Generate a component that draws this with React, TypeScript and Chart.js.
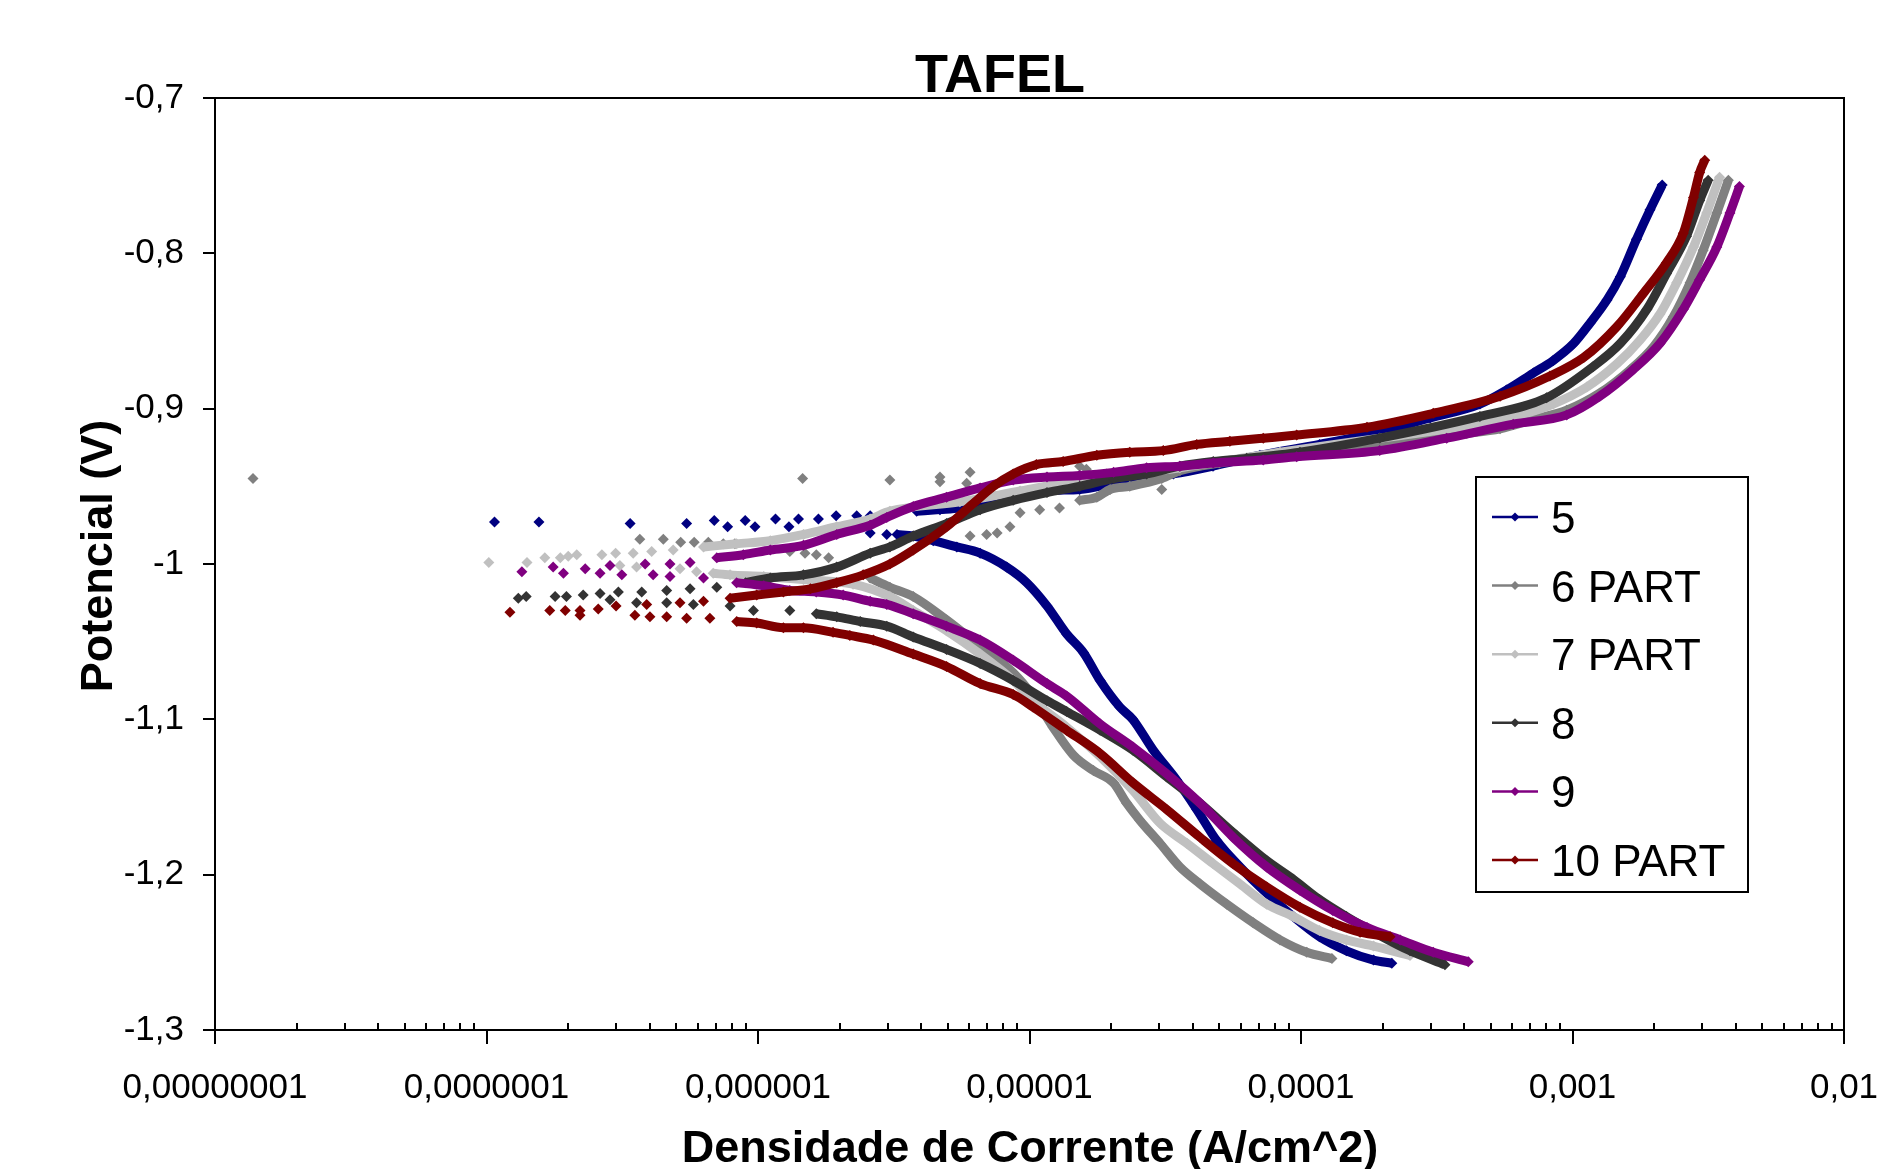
import React, { useEffect, useRef } from "react";
import { Chart, registerables } from "chart.js";

Chart.register(...registerables);

type P = [number, number];

// ---- series meta ----
const seriesNames = ["5", "6 PART", "7 PART", "8", "9", "10 PART"];
const seriesColors = ["#000080", "#808080", "#C0C0C0", "#333333", "#800080", "#800000"];

// ---- axis ticks ----
const xTickValues = [1e-8, 1e-7, 1e-6, 1e-5, 1e-4, 1e-3, 1e-2];
const xTickLabels = ["0,00000001", "0,0000001", "0,000001", "0,00001", "0,0001", "0,001", "0,01"];
const xMinorMultipliers = [2, 3, 4, 5, 6, 7, 8, 9];
const yTickValues = [-1.3, -1.2, -1.1, -1.0, -0.9, -0.8, -0.7];
const yTickLabels = ["-1,3", "-1,2", "-1,1", "-1", "-0,9", "-0,8", "-0,7"];

// ---- series 5 ----
const s5Scatter: P[] = [
  [1.07e-7, -0.973], [1.56e-7, -0.973], [3.38e-7, -0.974], [5.46e-7, -0.974], [6.9e-7, -0.972],
  [7.73e-7, -0.976], [8.97e-7, -0.972], [9.75e-7, -0.976], [1.16e-6, -0.971], [1.3e-6, -0.976],
  [1.41e-6, -0.971], [1.67e-6, -0.971], [1.94e-6, -0.969], [2.31e-6, -0.969], [2.59e-6, -0.969],
  [2.59e-6, -0.98], [2.98e-6, -0.981],
];
const s5Cathodic: P[] = [
  [3.25e-6, -0.981], [3.73e-6, -0.982], [4.42e-6, -0.985], [5.4e-6, -0.989], [6.58e-6, -0.993],
  [8.24e-6, -1.002], [9.77e-6, -1.012], [1.16e-5, -1.027], [1.37e-5, -1.045], [1.58e-5, -1.057],
  [1.82e-5, -1.075], [2.15e-5, -1.092], [2.4e-5, -1.1], [2.86e-5, -1.12], [3.48e-5, -1.139],
  [4.13e-5, -1.158], [4.89e-5, -1.178], [5.96e-5, -1.195], [7.48e-5, -1.212], [9.37e-5, -1.227],
  [1.17e-4, -1.24], [1.47e-4, -1.249], [1.85e-4, -1.255], [2.16e-4, -1.257],
];
const s5Anodic: P[] = [
  [3.84e-6, -0.966], [4.68e-6, -0.965], [5.54e-6, -0.964], [8.71e-6, -0.958], [1.16e-5, -0.953],
  [1.53e-5, -0.952], [2.04e-5, -0.948], [2.7e-5, -0.944], [3.39e-5, -0.942], [4.74e-5, -0.937],
  [7.06e-5, -0.93], [1.17e-4, -0.923], [1.95e-4, -0.915], [2.99e-4, -0.906], [4.56e-4, -0.897],
  [5.71e-4, -0.888], [7.18e-4, -0.877], [8.49e-4, -0.869], [1.01e-3, -0.858], [1.16e-3, -0.845],
  [1.34e-3, -0.83], [1.5e-3, -0.815], [1.72e-3, -0.791], [1.93e-3, -0.772], [2.14e-3, -0.756],
];

// ---- series 6 PART ----
const s6Scatter: P[] = [
  [1.38e-8, -0.945], [3.67e-7, -0.984], [4.48e-7, -0.984], [5.19e-7, -0.986], [5.82e-7, -0.986],
  [6.56e-7, -0.986], [7.45e-7, -0.987], [8.22e-7, -0.987], [1.31e-6, -0.992], [1.49e-6, -0.993],
  [1.64e-6, -0.994], [1.82e-6, -0.996], [1.46e-6, -0.945], [3.06e-6, -0.946], [4.68e-6, -0.944],
  [4.68e-6, -0.947], [5.87e-6, -0.948], [6.04e-6, -0.941], [1.53e-5, -0.937], [1.62e-5, -0.939],
  [1.92e-5, -0.942], [3.07e-5, -0.952], [6.04e-6, -0.982], [6.95e-6, -0.981], [7.6e-6, -0.98],
  [8.47e-6, -0.976], [9.23e-6, -0.967], [1.09e-5, -0.965], [1.29e-5, -0.964],
];
const s6Cathodic: P[] = [
  [2.59e-6, -1.009], [3.06e-6, -1.015], [3.73e-6, -1.021], [4.95e-6, -1.036], [6.58e-6, -1.053],
  [8.71e-6, -1.07], [1.03e-5, -1.085], [1.22e-5, -1.105], [1.45e-5, -1.123], [1.72e-5, -1.133],
  [2.04e-5, -1.141], [2.28e-5, -1.154], [2.55e-5, -1.165], [3.03e-5, -1.18], [3.58e-5, -1.195],
  [4.25e-5, -1.206], [5.33e-5, -1.219], [6.67e-5, -1.231], [8.37e-5, -1.242], [1.05e-4, -1.25],
  [1.3e-4, -1.254],
];
const s6Anodic: P[] = [
  [1.53e-5, -0.959], [1.77e-5, -0.957], [1.98e-5, -0.952], [2.34e-5, -0.95], [3.07e-5, -0.945],
  [3.58e-5, -0.94], [5.0e-5, -0.935], [8.37e-5, -0.93], [1.95e-4, -0.922], [4.08e-4, -0.916],
  [5.41e-4, -0.913], [7.18e-4, -0.907], [9.52e-4, -0.901], [1.26e-3, -0.89], [1.63e-3, -0.875],
  [1.99e-3, -0.86], [2.35e-3, -0.841], [2.71e-3, -0.819], [3.03e-3, -0.798], [3.4e-3, -0.774],
  [3.75e-3, -0.753],
];

// ---- series 7 PART ----
const s7Scatter: P[] = [
  [1.02e-7, -0.999], [1.41e-7, -0.999], [1.64e-7, -0.996], [1.87e-7, -0.996], [2.0e-7, -0.995],
  [2.15e-7, -0.994], [2.66e-7, -0.994], [2.99e-7, -0.993], [3.47e-7, -0.993], [4.06e-7, -0.992],
  [4.87e-7, -0.991], [3.1e-7, -1.001], [3.57e-7, -1.002], [5.16e-7, -1.003], [5.94e-7, -1.005],
];
const s7Cathodic: P[] = [
  [6.84e-7, -1.006], [7.89e-7, -1.007], [1.05e-6, -1.008], [1.47e-6, -1.01], [2.24e-6, -1.013],
  [3.06e-6, -1.021], [3.73e-6, -1.03], [4.95e-6, -1.043], [6.58e-6, -1.058], [8.71e-6, -1.075],
  [1.03e-5, -1.088], [1.37e-5, -1.105], [1.82e-5, -1.124], [2.41e-5, -1.146], [3.03e-5, -1.167],
  [3.81e-5, -1.18], [4.75e-5, -1.193], [5.96e-5, -1.206], [7.48e-5, -1.219], [9.37e-5, -1.227],
  [1.17e-4, -1.236], [1.47e-4, -1.242], [1.85e-4, -1.246], [2.52e-4, -1.252],
];
const s7Anodic: P[] = [
  [6.3e-7, -0.989], [8.34e-7, -0.987], [1.11e-6, -0.985], [1.47e-6, -0.981], [1.95e-6, -0.976],
  [2.59e-6, -0.971], [3.06e-6, -0.966], [5.54e-6, -0.96], [9.23e-6, -0.953], [1.53e-5, -0.946],
  [3.58e-5, -0.938], [8.37e-5, -0.928], [1.95e-4, -0.919], [4.08e-4, -0.911], [6.41e-4, -0.904],
  [8.49e-4, -0.897], [1.13e-3, -0.886], [1.46e-3, -0.871], [1.77e-3, -0.856], [2.1e-3, -0.839],
  [2.42e-3, -0.819], [2.79e-3, -0.796], [3.12e-3, -0.774], [3.48e-3, -0.751],
];

// ---- series 8 ----
const s8Scatter: P[] = [
  [1.31e-7, -1.022], [1.4e-7, -1.021], [1.79e-7, -1.021], [1.97e-7, -1.021], [2.27e-7, -1.02],
  [2.62e-7, -1.019], [3.06e-7, -1.018], [3.73e-7, -1.018], [4.61e-7, -1.017], [5.62e-7, -1.016],
  [7.05e-7, -1.015], [2.85e-7, -1.023], [3.57e-7, -1.025], [4.61e-7, -1.025], [5.78e-7, -1.026],
  [7.89e-7, -1.027], [9.62e-7, -1.03], [1.31e-6, -1.03],
];
const s8Cathodic: P[] = [
  [1.64e-6, -1.032], [1.95e-6, -1.034], [2.38e-6, -1.037], [2.98e-6, -1.04], [3.73e-6, -1.047],
  [4.95e-6, -1.055], [6.58e-6, -1.064], [8.71e-6, -1.075], [1.16e-5, -1.088], [1.37e-5, -1.095],
  [1.82e-5, -1.107], [2.41e-5, -1.12], [3.2e-5, -1.137], [4.25e-5, -1.154], [5.63e-5, -1.173],
  [7.48e-5, -1.191], [9.37e-5, -1.203], [1.17e-4, -1.216], [1.47e-4, -1.227], [1.9e-4, -1.238],
  [2.52e-4, -1.249], [3.39e-4, -1.258],
];
const s8Anodic: P[] = [
  [9.0e-7, -1.012], [1.11e-6, -1.009], [1.47e-6, -1.007], [1.95e-6, -1.002], [2.59e-6, -0.993],
  [3.06e-6, -0.989], [3.73e-6, -0.982], [4.95e-6, -0.974], [6.58e-6, -0.965], [8.71e-6, -0.959],
  [1.16e-5, -0.954], [1.53e-5, -0.95], [2.04e-5, -0.945], [2.7e-5, -0.942], [3.58e-5, -0.937],
  [4.75e-5, -0.934], [6.31e-5, -0.932], [9.91e-5, -0.928], [1.95e-4, -0.919], [4.56e-4, -0.905],
  [8.03e-4, -0.893], [1.19e-3, -0.873], [1.5e-3, -0.858], [1.88e-3, -0.836], [2.22e-3, -0.813],
  [2.63e-3, -0.789], [2.94e-3, -0.766], [3.16e-3, -0.753],
];

// ---- series 9 ----
const s9Scatter: P[] = [
  [1.35e-7, -1.005], [1.76e-7, -1.002], [1.92e-7, -1.006], [2.31e-7, -1.003], [2.62e-7, -1.006],
  [2.85e-7, -1.001], [3.15e-7, -1.007], [3.84e-7, -1.0], [4.11e-7, -1.007], [4.74e-7, -1.0],
  [4.74e-7, -1.008], [5.62e-7, -0.999], [6.3e-7, -1.009],
];
const s9Cathodic: P[] = [
  [8.34e-7, -1.012], [1.05e-6, -1.014], [1.31e-6, -1.017], [1.64e-6, -1.018], [2.06e-6, -1.02],
  [2.59e-6, -1.024], [2.98e-6, -1.026], [3.73e-6, -1.032], [4.95e-6, -1.04], [6.58e-6, -1.049],
  [8.71e-6, -1.062], [1.16e-5, -1.077], [1.37e-5, -1.085], [1.82e-5, -1.103], [2.41e-5, -1.118],
  [3.2e-5, -1.135], [4.25e-5, -1.154], [5.63e-5, -1.176], [7.48e-5, -1.195], [9.91e-5, -1.21],
  [1.31e-4, -1.223], [1.75e-4, -1.234], [2.32e-4, -1.242], [3.07e-4, -1.25], [4.13e-4, -1.256],
];
const s9Anodic: P[] = [
  [7.05e-7, -0.996], [8.83e-7, -0.994], [1.11e-6, -0.991], [1.47e-6, -0.988], [1.95e-6, -0.981],
  [2.59e-6, -0.975], [2.98e-6, -0.97], [3.73e-6, -0.963], [4.95e-6, -0.957], [6.58e-6, -0.951],
  [8.71e-6, -0.946], [1.16e-5, -0.944], [1.53e-5, -0.943], [2.04e-5, -0.941], [2.7e-5, -0.938],
  [3.58e-5, -0.937], [4.75e-5, -0.935], [7.26e-5, -0.933], [9.64e-5, -0.931], [1.95e-4, -0.927],
  [3.44e-4, -0.919], [6.05e-4, -0.91], [9.52e-4, -0.904], [1.26e-3, -0.892], [1.67e-3, -0.875],
  [2.1e-3, -0.858], [2.56e-3, -0.836], [2.94e-3, -0.817], [3.4e-3, -0.796], [3.8e-3, -0.774],
  [4.12e-3, -0.757],
];

// ---- series 10 PART ----
const s10Scatter: P[] = [
  [1.22e-7, -1.031], [1.71e-7, -1.03], [1.95e-7, -1.03], [2.21e-7, -1.03], [2.21e-7, -1.033],
  [2.58e-7, -1.029], [3.0e-7, -1.027], [3.52e-7, -1.033], [4.0e-7, -1.034], [4.61e-7, -1.034],
  [5.46e-7, -1.035], [6.65e-7, -1.035], [3.89e-7, -1.026], [5.16e-7, -1.025], [6.3e-7, -1.024],
];
const s10Cathodic: P[] = [
  [8.35e-7, -1.037], [9.89e-7, -1.038], [1.24e-6, -1.041], [1.47e-6, -1.041], [1.89e-6, -1.044],
  [2.18e-6, -1.046], [2.66e-6, -1.049], [3.73e-6, -1.058], [4.95e-6, -1.066], [6.58e-6, -1.077],
  [8.71e-6, -1.084], [1.03e-5, -1.092], [1.37e-5, -1.107], [1.82e-5, -1.122], [2.41e-5, -1.141],
  [3.2e-5, -1.158], [4.25e-5, -1.176], [5.63e-5, -1.193], [7.48e-5, -1.208], [9.91e-5, -1.221],
  [1.31e-4, -1.231], [1.65e-4, -1.237], [2.13e-4, -1.24],
];
const s10Anodic: P[] = [
  [7.89e-7, -1.022], [9.89e-7, -1.02], [1.24e-6, -1.018], [1.56e-6, -1.016], [1.95e-6, -1.012],
  [2.44e-6, -1.007], [3.06e-6, -1.0], [3.73e-6, -0.991], [4.95e-6, -0.976], [6.21e-6, -0.961],
  [7.36e-6, -0.95], [8.71e-6, -0.942], [1.06e-5, -0.936], [1.33e-5, -0.934], [1.77e-5, -0.93],
  [2.34e-5, -0.928], [3.11e-5, -0.927], [4.13e-5, -0.923], [5.47e-5, -0.921], [7.26e-5, -0.919],
  [9.64e-5, -0.917], [1.75e-4, -0.912], [3.07e-4, -0.903], [5.41e-4, -0.892], [8.26e-4, -0.879],
  [1.1e-3, -0.867], [1.46e-3, -0.847], [1.82e-3, -0.826], [2.22e-3, -0.806], [2.56e-3, -0.787],
  [2.79e-3, -0.764], [2.94e-3, -0.748], [3.07e-3, -0.74],
];

const seriesScatter = [s5Scatter, s6Scatter, s7Scatter, s8Scatter, s9Scatter, s10Scatter];
const seriesCathodic = [s5Cathodic, s6Cathodic, s7Cathodic, s8Cathodic, s9Cathodic, s10Cathodic];
const seriesAnodic = [s5Anodic, s6Anodic, s7Anodic, s8Anodic, s9Anodic, s10Anodic];

const FONT = '"Liberation Sans", Arial, Helvetica, sans-serif';
const W = 1882;
const H = 1169;
const AREA = { left: 215, right: 1844, top: 98, bottom: 1030 };
const LEGEND = { x: 1476, y: 477, w: 272, h: 415, firstRow: 517, rowGap: 68.6 };

const toPts = (arr: P[]) => arr.map(([x, y]) => ({ x, y }));

function drawDiamond(ctx: CanvasRenderingContext2D, x: number, y: number, r: number, color: string) {
  ctx.fillStyle = color;
  ctx.beginPath();
  ctx.moveTo(x, y - r);
  ctx.lineTo(x + r, y);
  ctx.lineTo(x, y + r);
  ctx.lineTo(x - r, y);
  ctx.closePath();
  ctx.fill();
}

const decorPlugin = {
  id: "decor",
  afterDraw(chart: any) {
    const { ctx, chartArea: a, scales } = chart;
    const xs = scales.x;
    const ys = scales.y;
    ctx.save();

    // frame
    ctx.strokeStyle = "#000";
    ctx.lineWidth = 2;
    ctx.strokeRect(a.left, a.top, a.right - a.left, a.bottom - a.top);

    // tick marks
    ctx.beginPath();
    for (const v of yTickValues) {
      const py = Math.round(ys.getPixelForValue(v));
      ctx.moveTo(a.left - 12, py);
      ctx.lineTo(a.left, py);
    }
    xTickValues.forEach((dec, i) => {
      const px = Math.round(xs.getPixelForValue(dec));
      ctx.moveTo(px, a.bottom);
      ctx.lineTo(px, a.bottom + 14);
      if (i < xTickValues.length - 1) {
        for (const m of xMinorMultipliers) {
          const mx = Math.round(xs.getPixelForValue(m * dec));
          ctx.moveTo(mx, a.bottom - 7);
          ctx.lineTo(mx, a.bottom);
        }
      }
    });
    ctx.stroke();

    // title
    ctx.fillStyle = "#000";
    ctx.textAlign = "center";
    ctx.textBaseline = "alphabetic";
    ctx.font = `bold 54px ${FONT}`;
    ctx.fillText("TAFEL", 1000, 92);

    // axis titles
    ctx.font = `bold 45px ${FONT}`;
    ctx.fillText("Densidade de Corrente (A/cm^2)", 1030, 1162);
    ctx.save();
    ctx.translate(112, 556);
    ctx.rotate(-Math.PI / 2);
    ctx.fillText("Potencial (V)", 0, 0);
    ctx.restore();

    // legend
    ctx.fillStyle = "#fff";
    ctx.fillRect(LEGEND.x, LEGEND.y, LEGEND.w, LEGEND.h);
    ctx.strokeStyle = "#000";
    ctx.lineWidth = 2;
    ctx.strokeRect(LEGEND.x, LEGEND.y, LEGEND.w, LEGEND.h);
    ctx.font = `44px ${FONT}`;
    ctx.textAlign = "left";
    seriesNames.forEach((name, i) => {
      const cy = LEGEND.firstRow + i * LEGEND.rowGap;
      ctx.strokeStyle = seriesColors[i];
      ctx.lineWidth = 2.5;
      ctx.beginPath();
      ctx.moveTo(LEGEND.x + 16, cy);
      ctx.lineTo(LEGEND.x + 62, cy);
      ctx.stroke();
      drawDiamond(ctx, LEGEND.x + 39, cy, 4.5, seriesColors[i]);
      ctx.fillStyle = "#000";
      ctx.fillText(name, LEGEND.x + 75, cy + 16);
    });

    ctx.restore();
  },
};

export default function App() {
  const canvasRef = useRef<HTMLCanvasElement | null>(null);

  useEffect(() => {
    const canvas = canvasRef.current;
    if (!canvas) return;

    const datasets: any[] = [];
    seriesNames.forEach((name, i) => {
      const color = seriesColors[i];
      const base = {
        label: name,
        borderColor: color,
        backgroundColor: color,
        pointBackgroundColor: color,
        pointBorderColor: color,
        pointBorderWidth: 0,
        pointStyle: "rectRot",
        pointRadius: 5.5,
        pointHoverRadius: 5.5,
        order: seriesNames.length - 1 - i,
        clip: 8,
      };
      datasets.push({ ...base, data: toPts(seriesScatter[i]), showLine: false });
      datasets.push({ ...base, data: toPts(seriesCathodic[i]), showLine: true, borderWidth: 9, cubicInterpolationMode: "monotone" });
      datasets.push({ ...base, data: toPts(seriesAnodic[i]), showLine: true, borderWidth: 9, cubicInterpolationMode: "monotone" });
    });

    const chart = new Chart(canvas, {
      type: "scatter",
      data: { datasets },
      options: {
        animation: false,
        responsive: false,
        events: [],
        layout: { padding: { top: AREA.top, right: W - AREA.right, left: 0, bottom: 0 } },
        plugins: { legend: { display: false }, tooltip: { enabled: false }, title: { display: false } },
        scales: {
          x: {
            type: "logarithmic",
            min: 1e-8,
            max: 1e-2,
            grid: { display: false, drawTicks: false },
            border: { display: false },
            afterBuildTicks: (scale: any) => {
              scale.ticks = xTickValues.map((v) => ({ value: v }));
            },
            afterFit: (scale: any) => {
              scale.height = H - AREA.bottom;
              scale.paddingLeft = 0;
              scale.paddingRight = 0;
            },
            ticks: {
              autoSkip: false,
              maxRotation: 0,
              minRotation: 0,
              padding: 37,
              color: "#000",
              font: { family: FONT, size: 35 },
              callback: (_v: any, index: number) => xTickLabels[index],
            },
          },
          y: {
            type: "linear",
            min: -1.3,
            max: -0.7,
            grid: { display: false, drawTicks: false },
            border: { display: false },
            afterBuildTicks: (scale: any) => {
              scale.ticks = yTickValues.map((v) => ({ value: v }));
            },
            afterFit: (scale: any) => {
              scale.width = AREA.left;
              scale.paddingTop = 0;
              scale.paddingBottom = 0;
            },
            ticks: {
              autoSkip: false,
              padding: 31,
              color: "#000",
              font: { family: FONT, size: 35 },
              callback: (_v: any, index: number) => yTickLabels[index],
            },
          },
        },
      },
      plugins: [decorPlugin],
    } as any);

    return () => chart.destroy();
  }, []);

  return (
    <div style={{ position: "absolute", left: 0, top: 0, width: W, height: H, background: "#fff" }}>
      <canvas ref={canvasRef} width={W} height={H} style={{ display: "block", width: W, height: H }} />
    </div>
  );
}
